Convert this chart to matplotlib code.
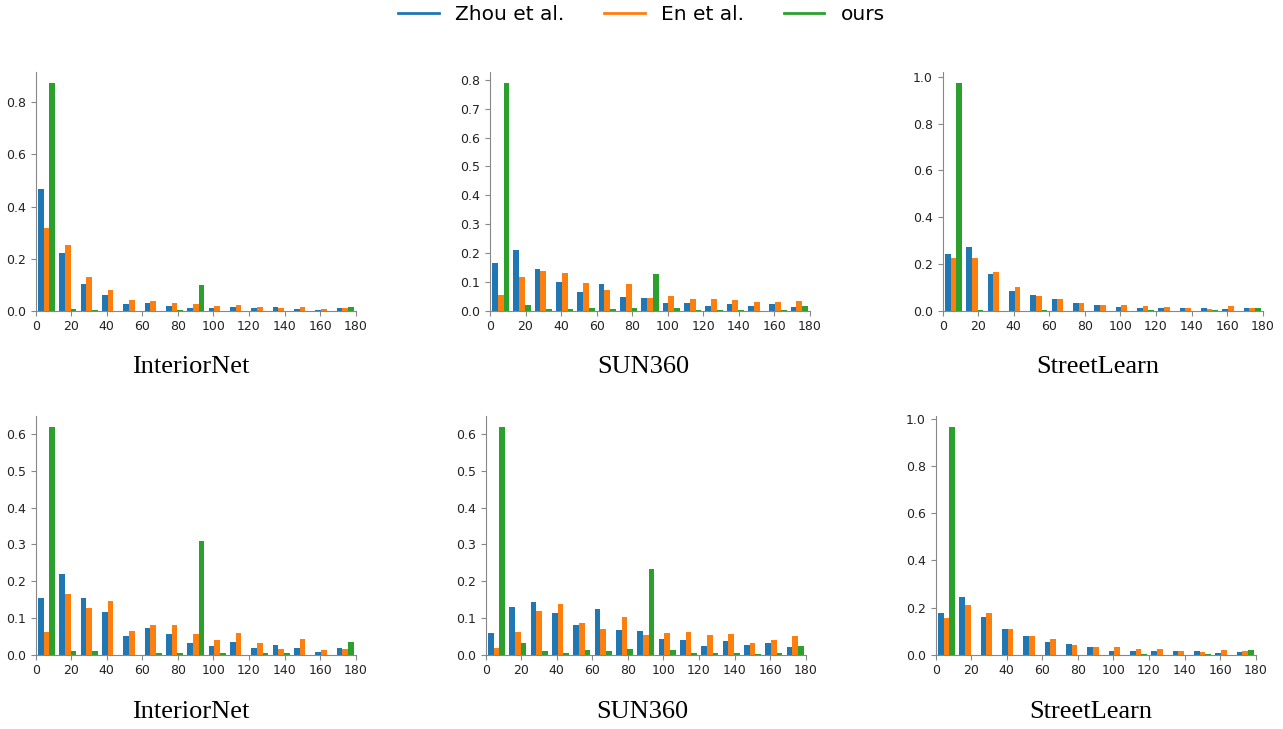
"""Angle-error histograms of three methods on three datasets (two rows)."""

import matplotlib

matplotlib.use("Agg")
import matplotlib.pyplot as plt  # noqa: E402
import numpy as np  # noqa: E402

BIN_EDGES = np.arange(0, 181, 12)
METHODS = ["Zhou et al.", "En et al.", "ours"]
COLORS = ["#1f77b4", "#ff7f0e", "#2ca02c"]
DATASETS = ["InteriorNet", "SUN360", "StreetLearn"]
XTICKS = [0, 20, 40, 60, 80, 100, 120, 140, 160, 180]

# top row
ZHOU_1 = [0.466, 0.223, 0.102, 0.059, 0.027, 0.029, 0.019, 0.009, 0.009, 0.013, 0.009, 0.013, 0.005, 0.003, 0.009]
EN_1 = [0.318, 0.254, 0.129, 0.079, 0.041, 0.037, 0.029, 0.026, 0.018, 0.023, 0.013, 0.009, 0.015, 0.006, 0.009]
OURS_1 = [0.874, 0.005, 0.003, 0.0, 0.0, 0.0, 0.002, 0.097, 0.0, 0.0, 0.0, 0.0, 0.0, 0.0, 0.015]

ZHOU_2 = [0.167, 0.209, 0.144, 0.099, 0.066, 0.092, 0.047, 0.044, 0.025, 0.025, 0.016, 0.023, 0.016, 0.023, 0.013]
EN_2 = [0.054, 0.116, 0.137, 0.130, 0.097, 0.072, 0.092, 0.045, 0.050, 0.040, 0.039, 0.037, 0.030, 0.030, 0.032]
OURS_2 = [0.789, 0.020, 0.006, 0.006, 0.008, 0.006, 0.010, 0.126, 0.008, 0.002, 0.002, 0.002, 0.0, 0.002, 0.018]

ZHOU_3 = [0.242, 0.272, 0.157, 0.084, 0.067, 0.051, 0.034, 0.026, 0.016, 0.010, 0.013, 0.010, 0.010, 0.007, 0.013]
EN_3 = [0.225, 0.225, 0.167, 0.103, 0.064, 0.051, 0.034, 0.023, 0.026, 0.020, 0.017, 0.013, 0.007, 0.020, 0.013]
OURS_3 = [0.974, 0.003, 0.0, 0.0, 0.002, 0.0, 0.0, 0.0, 0.0, 0.002, 0.0, 0.0, 0.002, 0.0, 0.013]

# bottom row
ZHOU_4 = [0.154, 0.220, 0.153, 0.115, 0.050, 0.072, 0.055, 0.031, 0.024, 0.035, 0.019, 0.026, 0.019, 0.007, 0.019]
EN_4 = [0.062, 0.164, 0.126, 0.145, 0.065, 0.081, 0.081, 0.055, 0.039, 0.058, 0.032, 0.015, 0.043, 0.012, 0.015]
OURS_4 = [0.619, 0.009, 0.009, 0.0, 0.0, 0.004, 0.004, 0.308, 0.004, 0.0, 0.004, 0.004, 0.0, 0.0, 0.035]

ZHOU_5 = [0.060, 0.130, 0.143, 0.113, 0.080, 0.124, 0.067, 0.064, 0.042, 0.039, 0.024, 0.036, 0.027, 0.032, 0.021]
EN_5 = [0.018, 0.062, 0.119, 0.138, 0.086, 0.069, 0.102, 0.053, 0.060, 0.062, 0.053, 0.055, 0.032, 0.040, 0.050]
OURS_5 = [0.619, 0.032, 0.011, 0.005, 0.013, 0.011, 0.016, 0.233, 0.013, 0.005, 0.004, 0.004, 0.002, 0.004, 0.025]

ZHOU_6 = [0.177, 0.243, 0.160, 0.110, 0.081, 0.055, 0.045, 0.032, 0.017, 0.016, 0.016, 0.016, 0.016, 0.007, 0.011]
EN_6 = [0.154, 0.209, 0.177, 0.107, 0.078, 0.066, 0.040, 0.032, 0.032, 0.024, 0.024, 0.016, 0.010, 0.020, 0.016]
OURS_6 = [0.966, 0.0, 0.0, 0.0, 0.0, 0.0, 0.0, 0.0, 0.0, 0.001, 0.0, 0.0, 0.001, 0.0, 0.020]

PANELS = [
    (ZHOU_1, EN_1, OURS_1),
    (ZHOU_2, EN_2, OURS_2),
    (ZHOU_3, EN_3, OURS_3),
    (ZHOU_4, EN_4, OURS_4),
    (ZHOU_5, EN_5, OURS_5),
    (ZHOU_6, EN_6, OURS_6),
]

# axes rectangles in pixels: left, top (of the plot area)
W, H = 1283, 729
AX_LEFT = [35.7, 490, 942.7, 35.7, 485.7, 935.7]
AX_TOP = [71.7, 71.7, 71.7, 415.7, 415.7, 415.7]
AX_W, AX_H = 320, 239
TITLE_X = [191, 643, 1098, 191, 642, 1091]
TITLE_Y = [367, 367, 367, 712, 712, 712]
SPINE_COLOR = "#888888"


def run() -> None:
    fig = plt.figure(figsize=(W / 100, H / 100), dpi=100)
    centers = (BIN_EDGES[:-1] + BIN_EDGES[1:]) / 2

    handles = []
    for i, series in enumerate(PANELS):
        ax = fig.add_axes([AX_LEFT[i] / W, 1 - (AX_TOP[i] + AX_H) / H, AX_W / W, AX_H / H])
        ax.hist(
            [centers] * 3, bins=BIN_EDGES, weights=list(series), color=COLORS, label=METHODS
        )
        ax.set_xlim(0, 180)
        ax.set_xticks(XTICKS)
        for side in ("top", "right"):
            ax.spines[side].set_visible(False)
        for side in ("left", "bottom"):
            ax.spines[side].set_color(SPINE_COLOR)
        ax.tick_params(colors=SPINE_COLOR, labelcolor="#222222", labelsize=9, length=3.5)
        fig.text(TITLE_X[i] / W, 1 - TITLE_Y[i] / H, DATASETS[i % 3], ha="center", va="center",
                 family="Liberation Serif", fontsize=19)

    for color, name in zip(COLORS, METHODS):
        handles.append(plt.Line2D([], [], color=color, lw=2, label=name))
    fig.legend(handles=handles, loc="center", bbox_to_anchor=(0.5, 1 - 15 / H), ncol=3,
               frameon=False, fontsize=14.5)

    plt.savefig("out.png", dpi=100)
    plt.close(fig)


if __name__ == "__main__":
    run()
